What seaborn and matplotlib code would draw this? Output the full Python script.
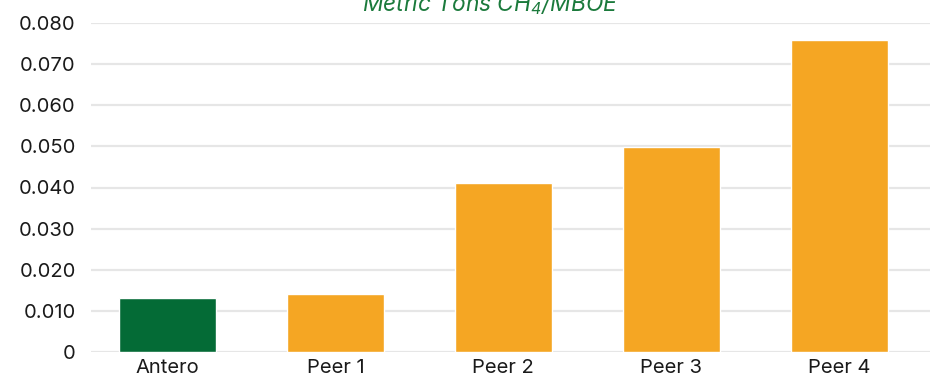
import matplotlib
matplotlib.use("Agg")
import matplotlib.pyplot as plt
import seaborn as sns
import pandas as pd

categories = ["Antero", "Peer 1", "Peer 2", "Peer 3", "Peer 4"]
values = [0.0131, 0.0141, 0.0411, 0.0499, 0.0759]
bar_colors = ["#046b36", "#f5a623", "#f5a623", "#f5a623", "#f5a623"]
y_ticks = [0.0, 0.01, 0.02, 0.03, 0.04, 0.05, 0.06, 0.07, 0.08]
y_tick_labels = ["0", "0.010", "0.020", "0.030", "0.040", "0.050", "0.060", "0.070", "0.080"]

sns.set_theme(style="white")
plt.rcParams["font.family"] = ["Inter", "DejaVu Sans"]
plt.rcParams["mathtext.fontset"] = "custom"
plt.rcParams["mathtext.rm"] = "Inter:italic"
plt.rcParams["mathtext.it"] = "Inter:italic"

df = pd.DataFrame({"category": categories, "value": values})

fig = plt.figure(figsize=(9.47, 3.84), dpi=100)
ax = fig.add_axes([91 / 947, 1 - 352 / 384, (930 - 91) / 947, (352 - 23) / 384])

sns.barplot(data=df, x="category", y="value", hue="category", palette=bar_colors,
            legend=False, width=0.577, saturation=1, ax=ax, zorder=3)

ax.set_ylim(0, 0.08)
ax.set_xlim(-0.455, 4.54)
ax.set_yticks(y_ticks)
ax.set_yticklabels(y_tick_labels)
ax.yaxis.grid(True, color="#e6e6e6", linewidth=1.6, zorder=0)
ax.set_axisbelow(True)
for s in ax.spines.values():
    s.set_visible(False)
ax.tick_params(axis="both", length=0, labelsize=14.5, colors="#1a1a1a")
ax.tick_params(axis="y", pad=11)
ax.tick_params(axis="x", pad=5)
ax.set_xlabel("")
ax.set_ylabel("")

fig.text(0.518, 1 - 11 / 384, r"Metric Tons CH$_4$/MBOE", ha="center", va="baseline",
         fontsize=16.4, style="italic", color="#1b7a3c")

fig.savefig("out.png", dpi=100)
